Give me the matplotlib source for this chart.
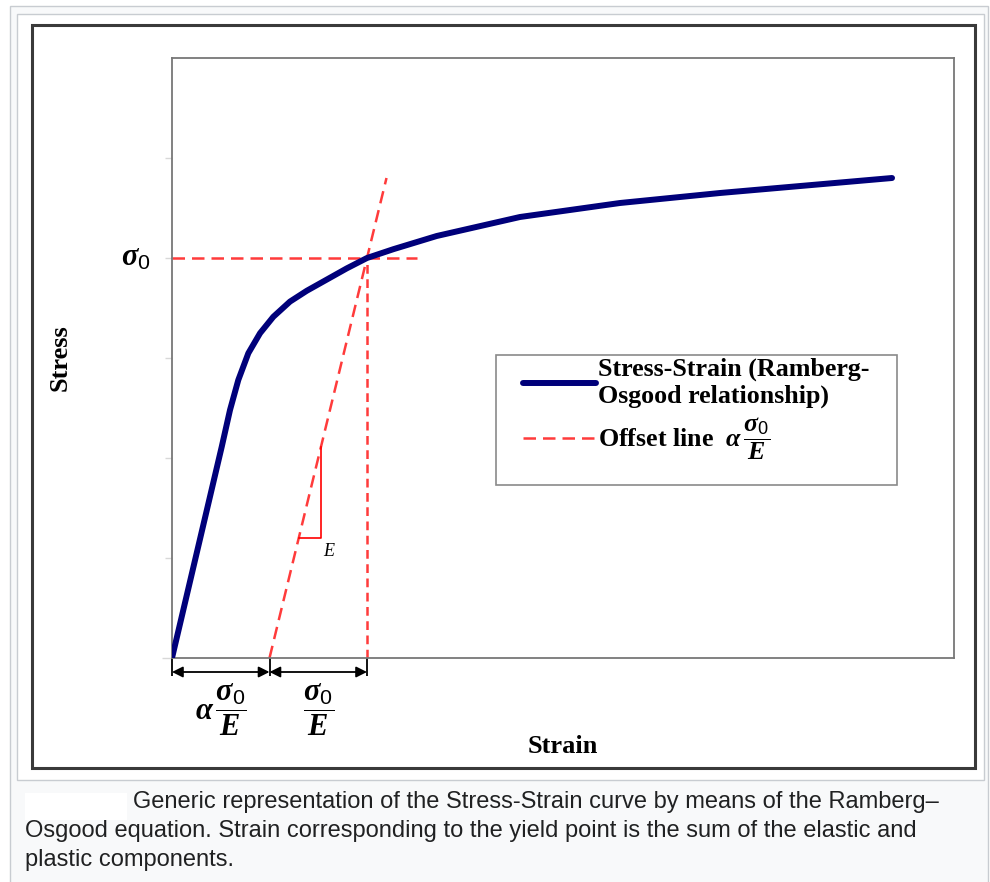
import matplotlib
matplotlib.use('Agg')
import matplotlib.pyplot as plt
from matplotlib.patches import Rectangle

# Ramberg-Osgood curve (strain in sigma0/E units, stress in sigma0 units)
strain = [0.0, 0.51, 0.595, 0.68, 0.783, 0.903, 1.039, 1.21, 1.382, 1.587,
          1.792, 2.0, 2.270, 2.715, 3.569, 4.595, 5.621, 7.385]
stress = [0.0, 0.528, 0.62, 0.695, 0.762, 0.812, 0.853, 0.891, 0.918, 0.946,
          0.974, 1.0, 1.022, 1.055, 1.1025, 1.1375, 1.1625, 1.20]

# offset line (parallel to elastic part, shifted by alpha*sigma0/E)
offset_strain = [1.0, 2.2]
offset_stress = [0.0, 1.2]
plastic_offset = 1.0   # alpha * sigma0 / E
yield_strain = 2.0     # strain at sigma0
yield_stress = 1.0     # sigma0
sigma_line_end = 2.51  # horizontal dashed line end

ytick_vals = [0, 0.25, 0.5, 0.75, 1.0, 1.25]

caption = [
    "Generic representation of the Stress-Strain curve by means of the Ramberg\u2013",
    "Osgood equation. Strain corresponding to the yield point is the sum of the elastic and",
    "plastic components.",
]

plt.rcParams['mathtext.fontset'] = 'custom'
plt.rcParams['mathtext.it'] = 'Liberation Serif:italic:bold'
plt.rcParams['mathtext.rm'] = 'Liberation Serif:bold'
plt.rcParams['mathtext.bf'] = 'Liberation Serif:bold'
plt.rcParams['mathtext.sf'] = 'Liberation Sans'

W, H = 990, 882
fig = plt.figure(figsize=(W / 100, H / 100), dpi=100, facecolor='white')


def fx(x):
    return x / W


def fy(y):
    return 1 - y / H


def frect(x0, y0, x1, y1, **kw):
    fig.add_artist(Rectangle((fx(x0), fy(y1)), fx(x1) - fx(x0), fy(y0) - fy(y1),
                             transform=fig.transFigure, zorder=-5, **kw))


# page-like frames around the image
frect(10, 6, 988, 895, facecolor='#f8f9fa', edgecolor='#c8ccd1', lw=1)
frect(17, 14, 984, 780, facecolor='white', edgecolor='#c8ccd1', lw=1)
frect(32, 25, 975, 768, facecolor='none', edgecolor='#3a3a3a', lw=2.2)
frect(25, 793, 127, 820, facecolor='white', edgecolor='none')

ax = fig.add_axes([fx(172), fy(658), fx(954) - fx(172), fy(58) - fy(658)])
ax.set_xlim(0, 782 / 97.5)
ax.set_ylim(0, 1.5)

sig0 = r'\sigma_{\mathsf{0}}'
frac = r'\dfrac{%s}{E}' % sig0

red = '#ff3b3b'
ax.plot(strain, stress, color='#00007a', lw=4.3, solid_capstyle='round',
        solid_joinstyle='round', label='Stress-Strain (Ramberg-\nOsgood relationship)', zorder=3)
ax.plot(offset_strain, offset_stress, color=red, lw=1.8, dashes=(5, 2.8),
        label=r'Offset line  $\alpha\,%s$' % frac, zorder=2)
ax.plot([0, sigma_line_end], [yield_stress, yield_stress], color=red, lw=1.8, dashes=(5, 2.8))
ax.plot([yield_strain, yield_strain], [0, yield_stress], color=red, lw=1.8, dashes=(3.5, 2.2))

# slope triangle on the offset line
tx0, tx1 = 1.30, 1.528
ty0 = tx0 - plastic_offset
ty1 = tx1 - plastic_offset
ax.plot([tx0, tx1, tx1], [ty0, ty0, ty1], color='red', lw=1.2)
ax.text(tx1 + 0.075, ty0 - 0.035, 'E', fontsize=13, style='italic',
        family='Liberation Serif', ha='center', va='center')

# spines / ticks
for s in ax.spines.values():
    s.set_color('#777777')
    s.set_linewidth(1.3)
ax.set_xticks([])
ax.set_yticks(ytick_vals)
ax.set_yticklabels([])
ax.tick_params(axis='y', length=5, color='#d8d8d8', width=1)
ax.yaxis.get_major_ticks()[0].tick1line.set_color('#555555')
ax.yaxis.get_major_ticks()[0].tick1line.set_markersize(7)

ax.text(-0.027, yield_stress, r'$%s$' % sig0, transform=ax.get_yaxis_transform(),
        ha='right', va='center', fontsize=22)

# dimension arrows below the strain axis
dim_y = -0.035
for a, b in [(0, plastic_offset), (plastic_offset, yield_strain)]:
    ax.annotate('', xy=(b, dim_y), xytext=(a, dim_y), annotation_clip=False,
                arrowprops=dict(arrowstyle='<|-|>', color='black', lw=1.3,
                                shrinkA=0, shrinkB=0, mutation_scale=16))
ax.vlines([0, plastic_offset, yield_strain], -0.045, 0, color='black', lw=1.3, clip_on=False)
ax.text(plastic_offset / 2, -0.13, r'$\alpha\,%s$' % frac, ha='center', va='center',
        fontsize=22, clip_on=False)
ax.text((plastic_offset + yield_strain) / 2, -0.13, r'$%s$' % frac, ha='center',
        va='center', fontsize=22, clip_on=False)

ax.set_xlabel('Strain', family='Liberation Serif', weight='bold', fontsize=19, va='center')
ax.xaxis.set_label_coords(0.5, -0.147)
ax.set_ylabel('Stress', family='Liberation Serif', weight='bold', fontsize=19, va='center')
ax.yaxis.set_label_coords(-0.143, 0.5)

# legend with its own box
ax.add_patch(Rectangle(((496 - 172) / 782, (658 - 485) / 600), (897 - 496) / 782, 130 / 600,
                       transform=ax.transAxes, facecolor='white', edgecolor='#8a8a8a',
                       lw=1.2, zorder=4))
leg = ax.legend(loc='upper left', bbox_to_anchor=((523 - 172) / 782, (658 - 358) / 600),
                borderaxespad=0, borderpad=0, frameon=False, handlelength=2.8,
                handletextpad=0.1, labelspacing=0.25,
                prop={'family': 'Liberation Serif', 'weight': 'bold', 'size': 18.7})
leg.set_zorder(5)

# caption below the image
cap_kw = dict(family='Liberation Sans', fontsize=17, color='#202122', va='center')
fig.text(fx(133), fy(802), caption[0], **cap_kw)
fig.text(fx(25), fy(831), caption[1], **cap_kw)
fig.text(fx(25), fy(860), caption[2], **cap_kw)

fig.savefig('out.png', dpi=100, facecolor=fig.get_facecolor())
